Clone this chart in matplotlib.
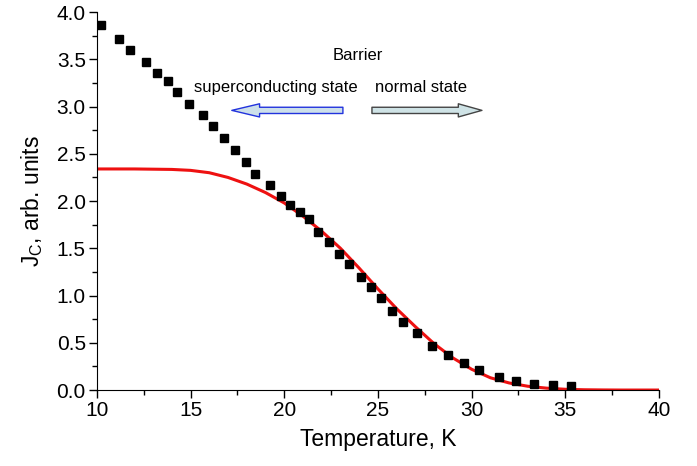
import matplotlib
matplotlib.use("Agg")
import matplotlib.pyplot as plt
from matplotlib.patches import FancyArrowPatch
from matplotlib.ticker import MultipleLocator, FormatStrFormatter

plt.rcParams.update({"font.family": ["Liberation Sans", "DejaVu Sans"], "font.size": 13})

# measured Jc points
temp_pts = [10.21, 11.17, 11.78, 12.62, 13.22, 13.81, 14.27, 14.91, 15.66, 16.19,
            16.78, 17.38, 17.97, 18.44, 19.22, 19.81, 20.30, 20.82, 21.32, 21.82,
            22.39, 22.90, 23.47, 24.08, 24.65, 25.15, 25.75, 26.32, 27.07, 27.89,
            28.74, 29.59, 30.38, 31.45, 32.39, 33.35, 34.33, 35.31]
jc_pts = [3.86, 3.72, 3.60, 3.47, 3.36, 3.27, 3.15, 3.03, 2.91, 2.79,
          2.67, 2.54, 2.41, 2.29, 2.17, 2.05, 1.96, 1.88, 1.81, 1.675,
          1.57, 1.44, 1.33, 1.20, 1.09, 0.97, 0.84, 0.72, 0.60, 0.466,
          0.367, 0.29, 0.21, 0.141, 0.092, 0.067, 0.05, 0.042]

# fitted curve
temp_fit = [10, 12, 14, 15, 16, 17, 18, 19, 20, 21, 22, 23, 24, 25, 26, 27, 28,
            29, 30, 31, 32, 33, 34, 35, 36, 37, 38, 40]
jc_fit = [2.34, 2.34, 2.335, 2.325, 2.30, 2.25, 2.18, 2.09, 1.98, 1.84, 1.68, 1.50,
          1.29, 1.07, 0.86, 0.67, 0.49, 0.34, 0.22, 0.13, 0.075, 0.04, 0.02, 0.008,
          0.003, 0.001, 0.0, 0.0]

fig = plt.figure(figsize=(6.97, 4.66), dpi=100)
ax = fig.add_axes([0.139, 0.163, 0.8065, 0.811])

ax.plot(temp_fit, jc_fit, color="#ee1111", lw=2.2, zorder=2)
ax.plot(temp_pts, jc_pts, ls="none", marker="s", ms=5.8, color="black", zorder=3)

ax.set_xlim(10, 40)
ax.set_ylim(0, 4.0)
ax.xaxis.set_major_locator(MultipleLocator(5))
ax.xaxis.set_minor_locator(MultipleLocator(2.5))
ax.yaxis.set_major_locator(MultipleLocator(0.5))
ax.yaxis.set_minor_locator(MultipleLocator(0.25))
ax.yaxis.set_major_formatter(FormatStrFormatter("%.1f"))
ax.tick_params(which="major", direction="out", length=6, width=1, labelsize=15, pad=2)
ax.tick_params(which="minor", direction="out", length=3.5, width=1)
for s in ("top", "right"):
    ax.spines[s].set_visible(False)

ax.set_xlabel("Temperature, K", fontsize=16.5, labelpad=6)
ax.set_ylabel("J$_\\mathregular{C}$, arb. units", fontsize=16.5, labelpad=8)

ax.text(23.9, 3.545, "Barrier", ha="center", va="center", fontsize=12)
ax.text(19.57, 3.2, "superconducting state", ha="center", va="center", fontsize=12)
ax.text(27.3, 3.2, "normal state", ha="center", va="center", fontsize=12)

left = FancyArrowPatch((23.13, 2.96), (17.2, 2.96),
                       arrowstyle="simple,head_length=2.0,head_width=0.95,tail_width=0.45",
                       mutation_scale=10, shrinkA=0, shrinkB=0,
                       fc="#cde0ea", ec="#2233dd", lw=1.0)
right = FancyArrowPatch((24.68, 2.96), (30.55, 2.96),
                        arrowstyle="simple,head_length=1.7,head_width=0.95,tail_width=0.45",
                        mutation_scale=10, shrinkA=0, shrinkB=0,
                        fc="#cfe3e6", ec="#444444", lw=1.0)
ax.add_patch(left)
ax.add_patch(right)

fig.savefig("out.png", dpi=100, facecolor="white")
